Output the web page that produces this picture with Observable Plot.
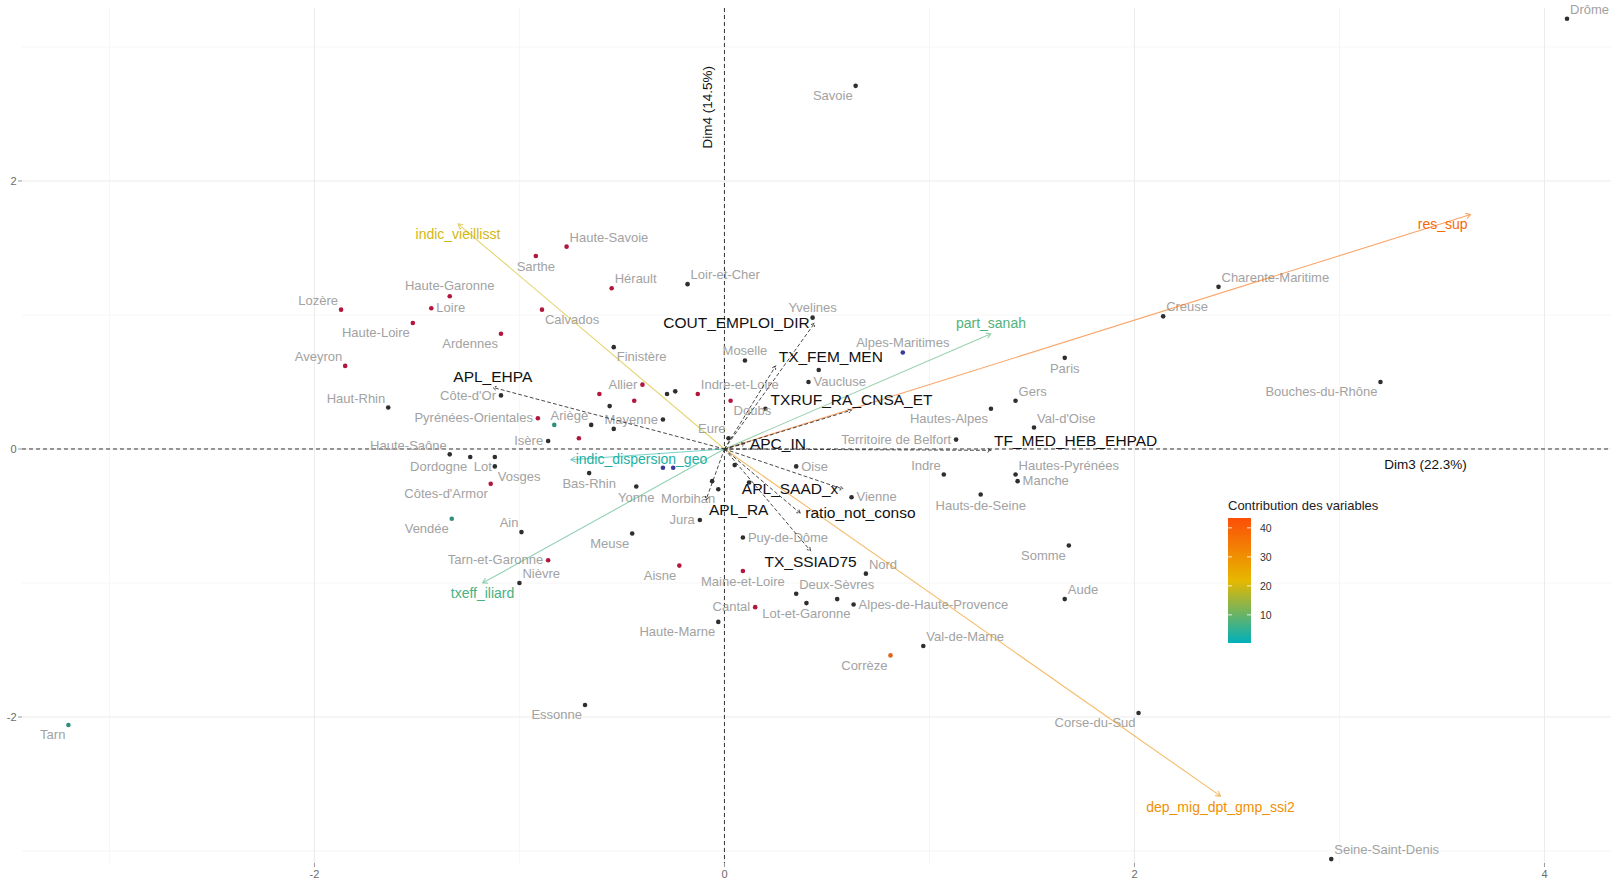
<!DOCTYPE html>
<html>
<head>
<meta charset="utf-8">
<script src="https://cdn.jsdelivr.net/npm/d3@7"></script>
<script src="https://cdn.jsdelivr.net/npm/@observablehq/plot@0.6"></script>
<style>
  html, body { margin: 0; padding: 0; background: #fff; }
  #chart { width: 1619px; height: 891px; }
</style>
</head>
<body>
<div id="chart"></div>
<script>
// ---------- Individuals (départements) : coordinates on Dim3 / Dim4 ----------
const deptNames = ["Drôme","Savoie","Haute-Savoie","Sarthe","Hérault","Loir-et-Cher","Haute-Garonne","Loire","Lozère","Haute-Loire","Calvados","Ardennes","Aveyron","Haut-Rhin","Côte-d'Or","Pyrénées-Orientales","Haute-Saône","Dordogne","Lot","Vosges","Côtes-d'Armor","Vendée","Ain","Tarn-et-Garonne","Nièvre","Meuse","Aisne","Essonne","Tarn","Haute-Marne","Cantal","Maine-et-Loire","Deux-Sèvres","Lot-et-Garonne","Gironde","Alpes-de-Haute-Provence","Nord","Val-de-Marne","Corrèze","Jura","Morbihan","Yonne","Bas-Rhin","Puy-de-Dôme","Somme","Aude","Corse-du-Sud","Seine-Saint-Denis","Bouches-du-Rhône","Charente-Maritime","Creuse","Paris","Gers","Val-d'Oise","Hautes-Alpes","Territoire de Belfort","Indre","Hautes-Pyrénées","Hauts-de-Seine","Manche","Alpes-Maritimes","Yvelines","Vaucluse","Moselle","Indre-et-Loire","Allier","Finistère","Ariège","Mayenne","Doubs","Oise","Isère","Eure","Vienne","Gard","Landes","Orne","Marne","Eure-et-Loir","Cher","Charente","Meurthe-et-Moselle","Ille-et-Vilaine","Loire-Atlantique","Haute-Vienne","Pas-de-Calais","Var","Seine-Maritime","Haute-Corse"];
const deptDim3 = [4.11,0.64,-0.77,-0.92,-0.55,-0.18,-1.34,-1.43,-1.87,-1.52,-0.89,-1.09,-1.85,-1.64,-1.09,-0.91,-1.34,-1.24,-1.12,-1.12,-1.14,-1.33,-0.99,-0.86,-1.00,-0.45,-0.22,-0.68,-3.20,-0.03,0.15,0.09,0.35,0.40,0.55,0.63,0.69,0.97,0.81,-0.12,-0.03,-0.43,-0.66,0.09,1.68,1.66,2.02,2.96,3.20,2.41,2.14,1.66,1.42,1.51,1.30,1.13,1.07,1.42,1.25,1.43,0.87,0.43,0.41,0.10,-0.13,-0.40,-0.54,-0.65,-0.30,0.03,0.35,-0.86,0.02,0.62,-0.83,-0.61,-0.44,-0.56,-0.28,-0.24,-0.54,-0.71,-0.30,-0.25,-0.06,0.05,0.12,0.46,0.20];
const deptDim4 = [3.21,2.71,1.51,1.44,1.20,1.23,1.14,1.05,1.04,0.94,1.04,0.86,0.62,0.31,0.40,0.23,-0.04,-0.06,-0.06,-0.13,-0.26,-0.52,-0.62,-0.83,-1.00,-0.63,-0.87,-1.91,-2.06,-1.29,-1.18,-0.91,-1.08,-1.15,-1.12,-1.16,-0.93,-1.47,-1.54,-0.53,-0.30,-0.28,-0.18,-0.66,-0.72,-1.12,-1.97,-3.06,0.50,1.21,0.99,0.68,0.36,0.16,0.30,0.07,-0.19,-0.19,-0.34,-0.24,0.72,0.98,0.50,0.66,0.41,0.48,0.76,0.18,0.22,0.36,-0.13,0.06,0.08,-0.36,0.18,0.41,0.36,0.32,0.41,0.43,0.15,0.08,-0.14,-0.14,-0.24,-0.12,-0.25,0.59,0.30];
const redDepts = ["Haute-Savoie","Sarthe","Hérault","Haute-Garonne","Loire","Lozère","Haute-Loire","Calvados","Ardennes","Aveyron","Pyrénées-Orientales","Côtes-d'Armor","Tarn-et-Garonne","Aisne","Cantal","Maine-et-Loire","Indre-et-Loire","Allier","Doubs","Landes","Orne","Meurthe-et-Moselle"];
const tealDepts = ["Tarn","Vendée","Gard"];
const orangeDepts = ["Corrèze"];
const blueDepts = ["Alpes-Maritimes","Ille-et-Vilaine","Loire-Atlantique"];

// ---------- Active variables (coloured by contribution) ----------
const varNames   = ["res_sup","dep_mig_dpt_gmp_ssi2","indic_vieillisst","part_sanah","indic_dispersion_geo","txeff_iliard"];
const varDim3    = [3.64, 2.42, -1.30, 1.30, -0.75, -1.18];
const varDim4    = [1.75, -2.59, 1.68, 0.86, -0.08, -1.00];
const varContrib = [38, 30, 20, 8, 3, 7];

// ---------- Supplementary variables (dashed) ----------
const suppNames = ["COUT_EMPLOI_DIR","TX_FEM_MEN","TXRUF_RA_CNSA_ET","TF_MED_HEB_EHPAD","APC_IN","APL_SAAD_x","APL_RA","ratio_not_conso","TX_SSIAD75","APL_EHPA"];
const suppDim3  = [0.44, 0.25, 0.62, 1.30, 0.10, 0.58, -0.09, 0.37, 0.42, -1.13];
const suppDim4  = [0.94, 0.62, 0.29, -0.01, 0.04, -0.30, -0.38, -0.48, -0.76, 0.46];

// ---------- Axis ticks & titles ----------
const xTicks = [-2, 0, 2, 4], xMinor = [-3, -1, 1, 3];
const yTicks = [-2, 0, 2],    yMinor = [-3, -1, 1, 3];
const xTitle = "Dim3 (22.3%)", yTitle = "Dim4 (14.5%)";
const legendTitle = "Contribution des variables";
const legendTicks = [10, 20, 30, 40];
const contribRange = [0.3, 43.4];

// ---------- label placement (compass codes, layout only) ----------
const deptPlace = {"Drôme":"ne","Savoie":"sw","Haute-Savoie":"ne","Sarthe":"s","Hérault":"ne","Loir-et-Cher":"ne","Haute-Garonne":"n","Loire":"e","Lozère":"nw","Haute-Loire":"sw","Calvados":"se","Ardennes":"sw","Aveyron":"nw","Haut-Rhin":"nw","Côte-d'Or":"w","Pyrénées-Orientales":"w","Haute-Saône":"nw","Dordogne":"sw","Lot":"sw","Vosges":"se","Côtes-d'Armor":"sw","Vendée":"sw","Ain":"nw","Tarn-et-Garonne":"w","Nièvre":"ne","Meuse":"sw","Aisne":"sw","Essonne":"sw","Tarn":"sw","Haute-Marne":"sw","Cantal":"w","Maine-et-Loire":"s","Deux-Sèvres":"ne","Lot-et-Garonne":"s","Alpes-de-Haute-Provence":"e","Nord":"ne","Val-de-Marne":"ne","Corrèze":"sw","Jura":"w","Morbihan":"sw","Yonne":"s","Bas-Rhin":"s","Puy-de-Dôme":"e","Somme":"sw","Aude":"ne","Corse-du-Sud":"sw","Seine-Saint-Denis":"ne","Bouches-du-Rhône":"sw","Charente-Maritime":"ne","Creuse":"ne","Paris":"s","Gers":"ne","Val-d'Oise":"ne","Hautes-Alpes":"sw","Territoire de Belfort":"w","Indre":"nw","Hautes-Pyrénées":"ne","Hauts-de-Seine":"s","Manche":"e","Alpes-Maritimes":"n","Yvelines":"n","Vaucluse":"e","Moselle":"n","Indre-et-Loire":"ne","Allier":"w","Finistère":"se","Ariège":"nw","Mayenne":"w","Doubs":"se","Oise":"e","Isère":"w","Eure":"nw","Vienne":"e"};
const varPlace  = {"res_sup":"sw","dep_mig_dpt_gmp_ssi2":"s","indic_vieillisst":"s","part_sanah":"n","indic_dispersion_geo":"e","txeff_iliard":"s"};
const suppPlace = {"COUT_EMPLOI_DIR":"w","TX_FEM_MEN":"ne","TXRUF_RA_CNSA_ET":"n","TF_MED_HEB_EHPAD":"ne","APC_IN":"e","APL_SAAD_x":"w","APL_RA":"se","ratio_not_conso":"e","TX_SSIAD75":"s","APL_EHPA":"n"};

const offsets = {
  n:  {dx: 0,  dy: -10, textAnchor: "middle"},
  s:  {dx: 0,  dy: 11,  textAnchor: "middle"},
  e:  {dx: 5,  dy: 0,   textAnchor: "start"},
  w:  {dx: -5, dy: 0,   textAnchor: "end"},
  ne: {dx: 3,  dy: -9,  textAnchor: "start"},
  nw: {dx: -3, dy: -9,  textAnchor: "end"},
  se: {dx: 3,  dy: 10,  textAnchor: "start"},
  sw: {dx: -3, dy: 10,  textAnchor: "end"}
};

const gradColors = ["#00AFBB", "#E7B800", "#FC4E07"];
const gradDomain = [contribRange[0], (contribRange[0] + contribRange[1]) / 2, contribRange[1]];
const contribColor = d3.scaleLinear().domain(gradDomain).range(gradColors).interpolate(d3.interpolateRgb);

const depts = deptNames.map((n, i) => ({name: n, x: deptDim3[i], y: deptDim4[i],
  group: redDepts.includes(n) ? "red" : tealDepts.includes(n) ? "teal" : orangeDepts.includes(n) ? "orange" : blueDepts.includes(n) ? "blue" : "grey",
  place: deptPlace[n] || "none"}));
const vars = varNames.map((n, i) => ({name: n, x: varDim3[i], y: varDim4[i], contrib: varContrib[i], place: varPlace[n]}));
const supp = suppNames.map((n, i) => ({name: n, x: suppDim3[i], y: suppDim4[i], place: suppPlace[n]}));

const groupFill = {grey: "#2e2e2e", red: "#b3163c", teal: "#2f8f7f", orange: "#e0641c", blue: "#3b3a9c"};

function labels(data, opts) {
  return Object.keys(offsets).map(p => Plot.text(data, {
    filter: d => d.place === p, x: "x", y: "y", text: "name",
    ...offsets[p], ...opts
  }));
}

const FONT = "'Liberation Sans', Arial, Helvetica, sans-serif";

const plot = Plot.plot({
  width: 1619, height: 891,
  marginLeft: 22, marginRight: 8, marginTop: 8, marginBottom: 28,
  x: {domain: [-3.424, 4.327], label: null},
  y: {domain: [-3.093, 3.287], label: null},
  color: {type: "linear", domain: gradDomain, range: gradColors},
  style: {fontFamily: FONT, background: "#fff"},
  marks: [
    Plot.gridX(xMinor, {stroke: "#f4f4f4", strokeOpacity: 1, strokeWidth: 0.8}),
    Plot.gridY(yMinor, {stroke: "#f4f4f4", strokeOpacity: 1, strokeWidth: 0.8}),
    Plot.gridX(xTicks, {stroke: "#ececec", strokeOpacity: 1, strokeWidth: 1.1}),
    Plot.gridY(yTicks, {stroke: "#ececec", strokeOpacity: 1, strokeWidth: 1.1}),
    Plot.axisX({ticks: xTicks, tickFormat: d => String(d), tickSize: 4, tickPadding: 3, fontSize: 11, fill: "#6b6b6b", stroke: "#9a9a9a", label: null}),
    Plot.axisY({ticks: yTicks, tickFormat: d => String(d), tickSize: 4, tickPadding: 2, fontSize: 11, fill: "#6b6b6b", stroke: "#9a9a9a", label: null}),
    Plot.ruleX([0], {stroke: "#222", strokeWidth: 0.9, strokeDasharray: "4,3"}),
    Plot.ruleY([0], {stroke: "#222", strokeWidth: 0.9, strokeDasharray: "4,3"}),
    // individuals
    ...Object.keys(groupFill).map(g => Plot.dot(depts, {filter: d => d.group === g, x: "x", y: "y", r: 2.3, fill: groupFill[g], stroke: "none"})),
    ...labels(depts, {fill: "#a2a2a2", fontSize: 13}),
    // active variables
    Plot.arrow(vars, {x1: () => 0, y1: () => 0, x2: "x", y2: "y", stroke: "contrib", strokeWidth: 1.1, headLength: 7, strokeOpacity: 0.6}),
    ...labels(vars, {fill: "contrib", fontSize: 14}),
    // supplementary variables
    Plot.arrow(supp, {x1: () => 0, y1: () => 0, x2: "x", y2: "y", stroke: "#333", strokeWidth: 0.9, strokeDasharray: "3,3", headLength: 6}),
    ...labels(supp, {fill: "#111", fontSize: 15.5}),
    // axis titles
    Plot.text([xTitle], {x: () => 3.42, y: () => 0, text: d => d, dy: 16, fontSize: 13.5, fill: "#111"}),
    Plot.text([yTitle], {x: () => 0, y: () => 2.55, text: d => d, dx: -17, rotate: -90, fontSize: 13.5, fill: "#111"})
  ]
});

document.getElementById("chart").appendChild(plot);

// ---------- colour-bar legend (inside panel, right side) ----------
const svg = d3.select(plot);
const defs = svg.append("defs");
const grad = defs.append("linearGradient").attr("id", "contribGrad")
  .attr("x1", 0).attr("y1", 1).attr("x2", 0).attr("y2", 0);
d3.range(0, 1.0001, 0.05).forEach(t => {
  const v = contribRange[0] + t * (contribRange[1] - contribRange[0]);
  grad.append("stop").attr("offset", t).attr("stop-color", contribColor(v));
});
const lg = svg.append("g").attr("transform", "translate(1228,505)")
  .style("font-family", FONT).attr("text-anchor", "start");
const barH = 125, barW = 23, barTop = 13;
const ly = d3.scaleLinear().domain(contribRange).range([barTop + barH, barTop]);
lg.append("text").attr("x", 0).attr("y", 0).attr("dy", "0.35em").attr("font-size", 13).attr("fill", "#222").attr("text-anchor", "start").text(legendTitle);
lg.append("rect").attr("x", 0).attr("y", barTop).attr("width", barW).attr("height", barH).attr("fill", "url(#contribGrad)");
legendTicks.forEach(v => {
  lg.append("line").attr("x1", 0).attr("x2", 4).attr("y1", ly(v)).attr("y2", ly(v)).attr("stroke", "#fff").attr("stroke-width", 0.8);
  lg.append("line").attr("x1", barW - 4).attr("x2", barW).attr("y1", ly(v)).attr("y2", ly(v)).attr("stroke", "#fff").attr("stroke-width", 0.8);
  lg.append("text").attr("x", barW + 9).attr("y", ly(v)).attr("dy", "0.35em").attr("font-size", 10.5).attr("fill", "#333").attr("text-anchor", "start").text(v);
});
</script>
</body>
</html>
